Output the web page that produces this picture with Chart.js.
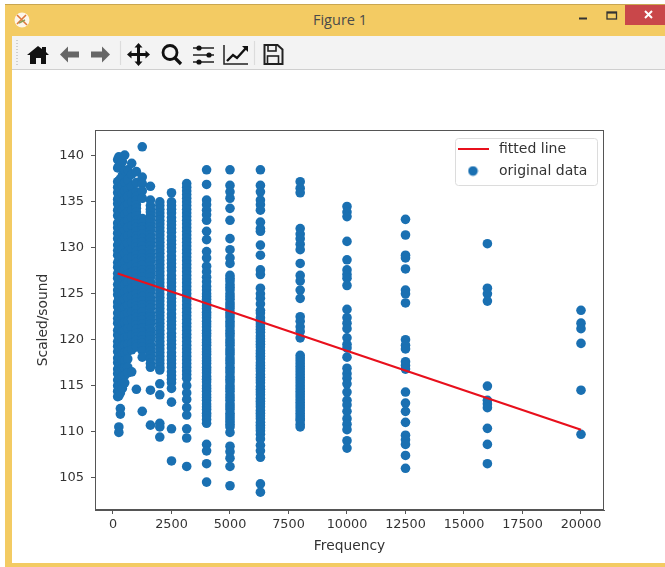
<!DOCTYPE html>
<html><head><meta charset="utf-8">
<script src="https://cdn.jsdelivr.net/npm/chart.js@4"></script>
<style>
html,body{margin:0;padding:0;background:#fff;width:665px;height:567px;overflow:hidden}
#win{position:absolute;left:5px;top:4px;width:660px;height:563px;background:#f3cb63;border-top:1px solid #c9a650;box-sizing:border-box}
#title{position:absolute;left:0;top:5px;width:680px;text-align:center;font:14.5px "Open Sans",sans-serif;color:#4a4a4a;line-height:30px}
#tool{position:absolute;left:12px;top:36px;width:653px;height:34px;background:#f3f3f3;border-bottom:1.5px solid #cfcfcf;box-sizing:border-box}
#page{position:absolute;left:12px;top:70px;width:653px;height:493px;background:#fff}
#close{position:absolute;left:625px;top:5px;width:40px;height:20px;background:#c9474a}
svg{position:absolute;left:0;top:0;filter:blur(.4px)}
canvas{position:absolute;left:0;top:0;filter:blur(.4px)}
</style></head>
<body>
<div id="win"></div><div id="tool"></div><div id="page"></div><div id="close"></div>
<div id="title">Figure 1</div>
<svg width="665" height="72" viewBox="0 0 665 72">
  <circle cx="22" cy="20" r="7.5" fill="#fdf6ea"/><path d="M17 15l10 10M26 15l-9 9" stroke="#e0793a" stroke-width="1.6"/><path d="M19 23l6-3" stroke="#8aa05a" stroke-width="1.5"/>
  <path d="M636 12l7 7M643 12l-7 7" transform="translate(9,-1)" stroke="#fff" stroke-width="2"/>
  <path d="M579 18.500h8" stroke="#333" stroke-width="2"/>
  <rect x="607" y="12" width="9.500" height="7" fill="none" stroke="#333" stroke-width="1.300"/><path d="M607 12.800h9.500" stroke="#333" stroke-width="1.600"/>
  <path d="M17 40v27" stroke="#aaa" stroke-width="1" stroke-dasharray="1 2"/>
  <path d="M120.500 41v24M254.500 41v24" stroke="#dcdcdc" stroke-width="1.200"/>
  <path d="M27 55l11-9 4 3v-2h4v5l3 3h-3v9h-5v-6h-5v6h-6v-9z" fill="#111"/>
  <path d="M60 54.500l8-8v5h11v6h-11v5z" fill="#666"/>
  <path d="M110 54.500l-8-8v5h-11v6h11v5z" fill="#666"/>
  <path d="M138.500 43l4 4.500h-2.500v5.500h5.500v-2.500l4.500 4-4.500 4v-2.500h-5.500v5.500h2.500l-4 4.500-4-4.500h2.500v-5.500h-5.500v2.500l-4.500-4 4.500-4v2.500h5.500v-5.500h-2.500z" fill="#111"/>
  <circle cx="170" cy="52.500" r="7" fill="none" stroke="#111" stroke-width="2.800"/><path d="M175 58l6 6" stroke="#111" stroke-width="3.200"/>
  <path d="M193 48h21M193 55h21M193 62h21" stroke="#222" stroke-width="1.500"/><circle cx="199" cy="48" r="2.600" fill="#111"/><circle cx="209" cy="55" r="2.600" fill="#111"/><circle cx="199" cy="62" r="2.600" fill="#111"/>
  <path d="M224 45v19h24" fill="none" stroke="#222" stroke-width="1.500"/><path d="M227 61l6-6 4 3 9-10" fill="none" stroke="#111" stroke-width="2.400"/><path d="M242 46h6v6z" fill="#111"/>
  <path d="M264.500 45h13l5 4.500v14.500h-18z" fill="none" stroke="#222" stroke-width="2"/><rect x="268" y="45" width="8" height="6" fill="none" stroke="#222" stroke-width="1.600"/><rect x="267.500" y="56" width="11" height="8" fill="none" stroke="#222" stroke-width="1.600"/>
</svg>
<canvas id="c" width="665" height="567"></canvas>
<script>
const frequencies=[200,250,315,400,500,630,800,1000,1250,1600,2000,2500,3150,4000,5000,6300,8000,10000,12500,16000,20000];
const y200=[139.6,138.7,137.2,136.6,136,135.3,134.8,134.1,133.5,132.7,132.2,131.6,131,130.3,129.7,129.2,128.4,127.9,127.2,126.7,126,125.4,124.9,124.1,123.6,122.9,122.3,121.8,121,120.5,119.8,119.3,118.7,118,117.5,116.8,116.3,115.6,115,114.4,113.8];
const y250=[139.9,138.9,137.3,136.4,135.7,134.9,134.2,133.4,132.8,132,131.3,130.7,129.9,129.3,128.6,127.8,127.3,126.5,125.8,125.2,124.5,123.8,123.2,122.5,121.7,121.2,120.4,119.7,119.1,118.4,117.7,117.1,116.4,115.8,115.1,114.6,113.9,110.5,109.9];
const y315=[139,137.5,136.3,135.4,134.6,133.7,133,132.1,131.4,130.5,129.8,129,128.2,127.4,126.6,125.9,125.1,124.3,123.5,122.8,122,121.3,120.4,119.6,118.9,118.2,117.3,116.6,115.8,115,114.2,112.5,111.9];
const y400=[139.4,137.9,136.8,135.9,135,134.2,133.3,132.4,131.6,130.8,129.9,129.1,128.3,127.5,126.7,125.8,125,124.2,123.4,122.6,121.7,120.9,120.1,119.3,118.5,117.7,116.9,116,115.2,114.7];
const y500=[140.1,138.4,137.1,136.2,135.3,134.5,133.6,132.8,131.9,131.1,130.2,129.4,128.5,127.7,126.9,126,125.2,124.4,123.5,122.7,121.9,121,120.2,119.4,118.6,117.7,116.9,116.1,115.3];
const y630=[138.5,137.4,136.4,135.6,134.7,133.9,133,132.2,131.3,130.5,129.6,128.8,127.9,127.1,126.2,125.4,124.6,123.7,122.9,122,121.2,120.3,119.5,118.7,117.9,117,116.4];
const y800=[139.2,138,136.7,135.8,135,134.1,133.3,132.4,131.5,130.7,129.8,129,128.1,127.3,126.4,125.6,124.7,123.9,123,122.2,121.3,120.5,119.6,118.9,116.5];
const y1000=[138.3,137.1,136.1,135.6,135.2,134.7,134.3,133.9,133.5,133,132.6,132.2,131.8,131.3,130.9,130.5,130.1,129.6,129.2,128.8,128.4,127.9,127.5,127.1,126.7,126.2,125.8,125.4,125,124.5,124.1,123.7,123.3,122.8,122.4,122,121.6,121.1,120.7,120.3,119.9,119.5,119.2,114.6];
const y1250=[141,137.7,137,136.2,135.4,133.2,132.7,132.3,131.9,131.5,131,130.6,130.2,129.8,129.3,128.9,128.5,128.1,127.6,127.2,126.8,126.4,125.9,125.5,125.1,124.7,124.2,123.8,123.4,123,122.5,122.1,121.7,121.3,120.8,120.4,120,119.6,119.2,118.8,118.1,112.2];
const y1600=[136.7,135.2,134.6,134.2,133.9,133.5,133.1,132.7,132.3,131.9,131.4,131,130.6,130.2,129.7,129.3,128.9,128.5,128,127.6,127.2,126.8,126.3,125.9,125.5,125.1,124.6,124.2,123.8,123.4,122.9,122.5,122.1,121.7,121.2,120.8,120.4,120,119.5,119.1,118.7,118.3,117.9,117.4,117,114.5,110.7];
const y2000=[135,134.6,134.2,133.8,133.4,133,132.6,132.2,131.8,131.4,131,130.6,130.2,129.8,129.4,129,128.6,128.2,127.8,127.4,127,126.6,126.2,125.8,125.4,125,124.6,124.2,123.8,123.4,123,122.6,122.2,121.8,121.4,121,120.6,120.2,119.8,119.4,119,118.6,118.2,117.8,117.4,117,116.7,115.2,114,110.9,110.5,109.4];
const y2500=[136,135,134.6,134.2,133.8,133.3,132.9,132.5,132.1,131.7,131.2,130.8,130.4,130,129.6,129.1,128.7,128.3,127.9,127.5,127,126.6,126.2,125.8,125.4,124.9,124.5,124.1,123.7,123.3,122.8,122.4,122,121.6,121.2,120.7,120.3,119.9,119.5,119.1,118.6,118.2,117.8,117.4,117,116.5,116.1,115.7,115.3,114.7,113.2,110.3,106.8];
const y3150=[137,136.6,136.2,135.8,135.4,135,134.6,134.2,133.8,133.4,133,132.6,132.2,131.8,131.4,131,130.6,130.2,129.8,129.4,129,128.6,128.2,127.8,127.4,127,126.6,126.2,125.8,125.4,125,124.6,124.2,123.8,123.4,123,122.6,122.2,121.8,121.4,121,120.6,120.2,119.8,119.4,119,118.6,118.2,117.8,117.4,117,116.6,116.2,115.8,115,114.2,113.5,112.6,111.8,110.3,109.3,106.2];
const y4000=[138.5,136.9,135.2,134.7,134.1,133.6,133,131.8,130.9,129.6,128.9,128,127.4,126.8,126.3,125.8,125.4,125,124.7,124.4,124,123.7,123.4,123,122.7,122.4,122,121.7,121.4,121,120.7,120.4,120,119.7,119.4,119,118.7,118.4,118,117.7,117.4,117,116.7,116.4,116,115.7,115.4,115,114.7,114.4,114,113.7,113.4,113,112.7,112.4,112,111.7,111.3,110.9,108.6,107.9,106.5,104.5];
const y5000=[138.5,136.8,136.1,135.4,134.3,133,131,129.8,128.9,128.3,127,126.7,126.4,126,125.7,125.4,125,124.7,124.4,124,123.7,123.4,123,122.7,122.4,122,121.7,121.4,121,120.7,120.4,120,119.7,119.4,119,118.7,118.4,118,117.7,117.4,117,116.7,116.4,116,115.7,115.4,115,114.7,114.4,114,113.7,113.4,113,112.7,112.4,112,111.7,111.4,111.1,110.8,110.5,109.9,108.4,107.8,107.1,106.2,104.1];
const y6300=[138.5,136.8,136.1,135.2,134.7,134.1,132.8,132.1,131.8,130.3,129.2,127.6,127.1,125.6,125,124.5,123.9,123.2,122.9,122.4,122,121.7,121.4,121.1,120.8,120.4,120.1,119.8,119.5,119.2,118.8,118.5,118.2,117.9,117.5,117.2,116.9,116.6,116.2,115.9,115.6,115.3,114.9,114.6,114.3,114,113.6,113.3,113,112.7,112.3,112,111.7,111.4,111,110.7,110.4,110.1,109.7,109.2,108.5,107.9,107.2,104.3,103.4];
const y8000=[137.2,136.5,136,132.1,131.5,131,130.4,129.8,128.3,127,126.4,125.4,124.5,122.5,122,121.4,120.9,120.2,118.3,118,117.7,117.4,117.1,116.8,116.5,116.2,115.9,115.6,115.3,115,114.7,114.4,114.1,113.8,113.5,113.2,112.9,112.6,112.3,112,111.7,111.4,111.2,110.8,110.5];
const y10000=[134.5,133.9,133.4,130.7,128.7,127.6,127.1,126.7,125.9,123.3,122.4,121.8,121.2,120.2,119.5,119.1,118.1,116.9,116.3,115.8,115.2,114.3,113.4,112.9,112.2,111.4,110.8,110.2,109,108.2];
const y12500=[133.1,131.4,129.2,128.9,127.7,125.4,125,124,120,119.4,119,117.6,117.2,116.8,114.3,113.1,112.2,111,109.6,109.1,108.6,107.4,106];
const y16000=[130.45,125.6,125,124.2,114.95,113.4,113,112.6,110.35,108.6,106.5];
const y20000=[123.2,121.8,121.2,119.6,114.5,109.7];
const columns=[y200,y250,y315,y400,y500,y630,y800,y1000,y1250,y1600,y2000,y2500,y3150,y4000,y5000,y6300,y8000,y10000,y12500,y16000,y20000];
const lineX=[200,20000];
const lineY=[127.2,110.2];
const xTicks=[0,2500,5000,7500,10000,12500,15000,17500,20000];
const yTicks=[105,110,115,120,125,130,135,140];
const xName='Frequency', yName='Scaled/sound';
const lineName='fitted line', dotName='original data';
const dotColor='#1a70b2', lineColor='#e8101c', textColor='#333';

const scatterPts=[];
columns.forEach((ys,i)=>ys.forEach(v=>scatterPts.push({x:frequencies[i],y:v})));
const dotImg=document.createElement('canvas');dotImg.width=11;dotImg.height=11;
{const g=dotImg.getContext('2d');g.fillStyle=dotColor;g.beginPath();g.arc(5.5,5.5,4.8,0,7);g.fill();}
const lineImg=document.createElement('canvas');lineImg.width=31;lineImg.height=2;
{const g=lineImg.getContext('2d');g.fillStyle=lineColor;g.fillRect(0,0,31,2);}

const frame={id:'frame',
  afterUpdate(ch){const l=ch.legend;const w=l.width,h=l.height;l.left=446;l.right=446+w;l.top=134;l.bottom=134+h;},
  beforeDraw(ch){const g=ch.ctx;g.save();g.fillStyle='#fff';g.strokeStyle='#dcdcdc';g.lineWidth=1;
    g.beginPath();g.roundRect(455.5,138.5,142,47,3);g.fill();g.stroke();g.restore();},
  afterDraw(ch){const a=ch.chartArea,g=ch.ctx;g.save();g.strokeStyle='#555';g.lineWidth=1;
    g.strokeRect(a.left+.5,a.top+.5,a.right-a.left-1,a.bottom-a.top-1);g.restore();}
};

new Chart(document.getElementById('c'),{
  type:'scatter',
  data:{datasets:[
    {label:lineName,data:lineX.map((x,i)=>({x,y:lineY[i]})),showLine:true,borderColor:lineColor,backgroundColor:lineColor,borderWidth:2.2,pointRadius:0,order:0},
    {label:dotName,data:scatterPts,backgroundColor:dotColor,borderColor:dotColor,pointRadius:4.8,borderWidth:0,order:1}
  ]},
  plugins:[frame],
  options:{
    responsive:false,animation:false,
    layout:{padding:{left:0,top:130,right:61,bottom:0}},
    plugins:{
      tooltip:{enabled:false},
      legend:{position:'chartArea',align:'start',
        labels:{font:{family:'"DejaVu Sans"',size:14},color:textColor,usePointStyle:true,pointStyleWidth:38,boxHeight:10,padding:8,
          generateLabels(){return [
            {text:lineName,pointStyle:lineImg,strokeStyle:lineColor,fillStyle:lineColor,lineWidth:0,fontColor:textColor,datasetIndex:0},
            {text:dotName,pointStyle:dotImg,strokeStyle:dotColor,fillStyle:dotColor,lineWidth:0,fontColor:textColor,datasetIndex:1}];}
        }}
    },
    scales:{
      x:{type:'linear',min:-769,max:20983,
        afterBuildTicks(s){s.ticks=xTicks.map(value=>({value}));},
        afterFit(s){s.height=57;},
        grid:{display:true,drawOnChartArea:false,drawTicks:true,tickLength:4,color:'#555'},
        border:{display:true,color:'#555'},
        ticks:{autoSkip:false,maxRotation:0,padding:3,color:textColor,font:{family:'"DejaVu Sans"',size:12.8},callback:v=>String(v)},
        title:{display:true,text:xName,color:textColor,padding:{top:2,bottom:12},font:{family:'"DejaVu Sans"',size:13.8}}},
      y:{type:'linear',min:101.46,max:142.83,
        afterBuildTicks(s){s.ticks=yTicks.map(value=>({value}));},
        afterFit(s){s.width=95;},
        grid:{display:true,drawOnChartArea:false,drawTicks:true,tickLength:4,color:'#555'},
        border:{display:true,color:'#555'},
        ticks:{autoSkip:false,padding:7,color:textColor,font:{family:'"DejaVu Sans"',size:13},callback:v=>String(v)},
        title:{display:true,text:yName,color:textColor,padding:{top:35,bottom:4},font:{family:'"DejaVu Sans"',size:13.8}}}
    }
  }
});
</script>
</body></html>
